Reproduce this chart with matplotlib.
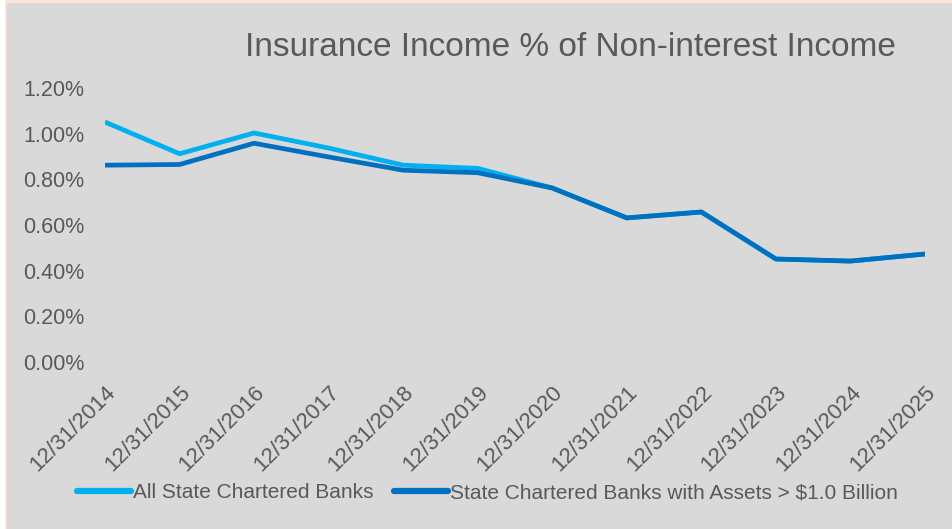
import matplotlib
matplotlib.use("Agg")
import matplotlib.pyplot as plt
from matplotlib.patches import Rectangle
from matplotlib.lines import Line2D

dates = ["12/31/2014", "12/31/2015", "12/31/2016", "12/31/2017", "12/31/2018",
         "12/31/2019", "12/31/2020", "12/31/2021", "12/31/2022", "12/31/2023",
         "12/31/2024", "12/31/2025"]
all_banks = [1.051, 0.912, 1.003, 0.937, 0.862, 0.848, 0.762, 0.631, 0.657, 0.451, 0.442, 0.473]
large_banks = [0.862, 0.865, 0.958, 0.898, 0.840, 0.829, 0.762, 0.631, 0.657, 0.451, 0.442, 0.473]
yticks = [0.0, 0.2, 0.4, 0.6, 0.8, 1.0, 1.2]
ytick_labels = ["0.00%", "0.20%", "0.40%", "0.60%", "0.80%", "1.00%", "1.20%"]

light = "#00B0F0"
dark = "#0070C0"
txt = "#595959"
bg = "#D9D9D9"
fam = ["Liberation Sans", "DejaVu Sans"]

fig = plt.figure(figsize=(9.52, 5.29), dpi=100)
fig.patch.set_facecolor("white")
W, H = 952, 529
fig.patches.append(Rectangle((7 / W, 0), 1 - 7 / W, 1 - 3 / H, transform=fig.transFigure,
                             facecolor=bg, edgecolor="none", zorder=-2))
fig.patches.append(Rectangle((5 / W, 0), 2 / W, 1, transform=fig.transFigure,
                             facecolor="#FBE3D6", edgecolor="none", zorder=-2))
fig.patches.append(Rectangle((5 / W, 1 - 3 / H), 1 - 5 / W, 3 / H, transform=fig.transFigure,
                             facecolor="#FBE3D6", edgecolor="none", zorder=-2))

ax = fig.add_axes([105 / W, 1 - 362 / H, (925 - 105) / W, (362 - 88) / H])
ax.set_zorder(2)
ax.set_facecolor("none")
x = list(range(len(dates)))
ax.plot(x, all_banks, color=light, lw=3.4, solid_capstyle="butt", solid_joinstyle="round", zorder=2)
ax.plot(x, large_banks, color=dark, lw=3.4, solid_capstyle="butt", solid_joinstyle="round", zorder=3)
ax.set_xlim(0, len(dates) - 1)
ax.set_ylim(0, 1.2)
ax.set_yticks(yticks)
ax.set_yticklabels(ytick_labels, fontsize=15.5, color=txt, family=fam)
ax.set_xticks(x)
ax.set_xticklabels(dates, rotation=45, ha="right", va="top", rotation_mode="anchor",
                   fontsize=16, color=txt, family=fam)
ax.tick_params(axis="both", length=0)
ax.tick_params(axis="y", pad=15)
ax.tick_params(axis="x", pad=14)
for s in ax.spines.values():
    s.set_visible(False)

fig.text(570 / W, 1 - 47 / H, "Insurance Income % of Non-interest Income", ha="center", va="center",
         fontsize=24, color=txt, family=fam)

handles = [Line2D([0], [0], color=light, lw=4.5, solid_capstyle="round"),
           Line2D([0], [0], color=dark, lw=4.5, solid_capstyle="round")]
fig.legend(handles, ["All State Chartered Banks", "State Chartered Banks with Assets > $1.0 Billion"],
           loc="center", bbox_to_anchor=(0.512, 1 - 493 / H), ncol=2, frameon=False,
           prop={"family": fam, "size": 15}, labelcolor=txt, handlelength=2.6,
           handletextpad=0.1, columnspacing=1.0)

fig.savefig("out.png", dpi=100, facecolor=fig.get_facecolor())
